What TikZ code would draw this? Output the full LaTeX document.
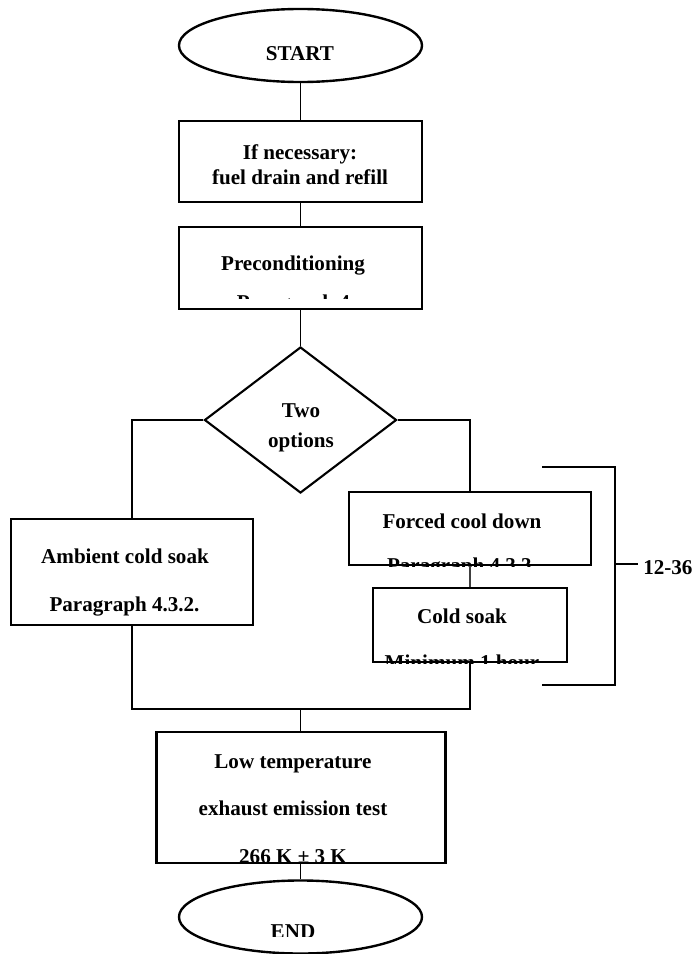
\documentclass[tikz,border=0pt]{standalone}
\usepackage{fontspec}
\setmainfont{Liberation Serif}
\usetikzlibrary{shapes.geometric,positioning}

\begin{document}
\begin{tikzpicture}[x=0.025cm, y=-0.025cm,
  font=\fontsize{15}{18}\selectfont\bfseries,
  terminal/.style={draw, ellipse, line width=1.7pt, inner sep=0pt,
                   minimum width=6.075cm, minimum height=1.825cm},
  stepbox/.style={draw, rectangle, line width=1.9pt, inner sep=0pt},
  choice/.style={draw, diamond, line width=1.5pt, inner sep=0pt,
                 minimum width=4.8cm, minimum height=3.65cm},
  txt/.style={anchor=base, inner sep=0pt},
  link/.style={line width=1.4pt}]
  \useasboundingbox (0,0) rectangle (693,954);

  % shapes
  \node[terminal] (start) at (300.5,45.5) {};
  \node[stepbox, minimum width=6.075cm, minimum height=2.025cm] (fuel) at (300.5,161.5) {};
  \node[stepbox, minimum width=6.075cm, minimum height=2.05cm] (precond) at (300.5,268) {};
  \node[choice] (options) at (300.5,420) {};
  \node[stepbox, minimum width=6.05cm, minimum height=2.65cm] (ambient) at (132,572) {};
  \node[stepbox, minimum width=6.05cm, minimum height=1.825cm] (forced) at (470,528.5) {};
  \node[stepbox, minimum width=4.85cm, minimum height=1.85cm] (coldsoak) at (470,625) {};
  \node[stepbox, minimum width=7.225cm, minimum height=3.275cm] (lowtemp) at (301,797.5) {};
  \node[terminal] (end) at (300.5,917) {};

  % texts
  \node[txt] (starttxt) at (300,60) {START};
  \node[txt] (fueltxta) at (300,159.5) {If necessary:};
  \node[txt] (fueltxtb) at (300,184) {fuel drain and refill};
  \node[txt] (precondtxt) at (293,270) {Preconditioning};
  \node[txt] (optionstxta) at (301,417) {Two};
  \node[txt] (optionstxtb) at (301,447) {options};
  \node[txt] (ambienttxta) at (125,563) {Ambient cold soak};
  \node[txt] (ambienttxtb) at (124.5,611) {Paragraph 4.3.2.};
  \node[txt] (forcedtxt) at (462,528) {Forced cool down};
  \node[txt] (coldsoaktxt) at (462,623) {Cold soak};
  \node[txt] (lowtemptxta) at (293,768) {Low temperature};
  \node[txt] (lowtemptxtb) at (293,815) {exhaust emission test};
  \node[txt, anchor=base west, inner xsep=0.125cm] (span) at (638,574) {12-36};

  % texts cut off by their boxes
  \begin{scope}
    \clip (precond.north west) rectangle (422,298);
    \node[txt] (precondpar) at (296,309) {Paragraph 4.};
  \end{scope}
  \begin{scope}
    \clip (forced.south west) rectangle (forced.north east);
    \node[txt] (forcedpar) at (462,572) {Paragraph 4.3.3.};
  \end{scope}
  \begin{scope}
    \clip (coldsoak.south west) rectangle (coldsoak.north east);
    \node[txt] (coldsoakmin) at (462,669) {Minimum 1 hour};
  \end{scope}
  \begin{scope}
    \clip (lowtemp.south west) rectangle (lowtemp.north east);
    \node[txt] (lowtemptxtc) at (293,863) {266 K ± 3 K};
  \end{scope}
  \begin{scope}
    \clip (180,881) rectangle (423,936);
    \node[txt] (endtxt) at (293,938) {END};
  \end{scope}

  % connectors
  \coordinate (merge) at (300.5,709);
  \draw[link] (start) -- (fuel);
  \draw[link] (fuel) -- (precond);
  \draw[link] (precond) -- (options);
  \draw[link] (options.west) -| (ambient.north);
  \draw[link] (options.east) -| (forced.north);
  \draw[link, line width=0.9pt, black!75] (forced) -- (coldsoak);
  \draw[link] (ambient.south) |- (merge) -| (coldsoak.south);
  \draw[link] (merge) -- (merge |- lowtemp.north);
  \draw[link] (lowtemp.south -| end) -- (end);

  % bracket 12-36
  \coordinate (brmid) at (615,564);
  \draw[link] (542,467) -- (615,467) -- (615,685) -- (542,685);
  \draw[link] (brmid) -- (brmid -| span.west);
\end{tikzpicture}
\end{document}
